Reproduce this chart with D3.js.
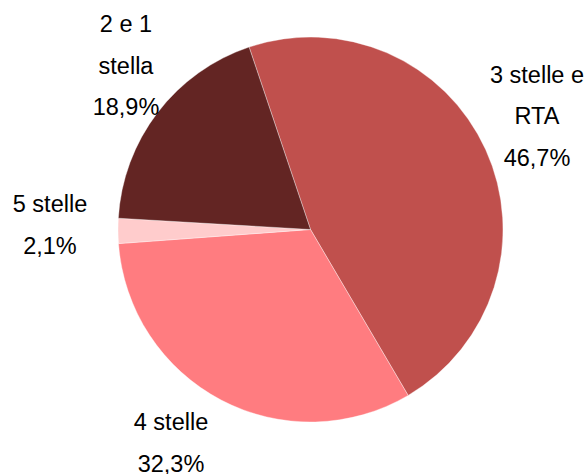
<!DOCTYPE html>
<html>
<head>
<meta charset="utf-8">
<script src="https://cdn.jsdelivr.net/npm/d3@7"></script>
<style>
  html, body { margin: 0; padding: 0; background: #fff; }
  svg { display: block; }
  text { font-family: "Liberation Sans", Arial, sans-serif; font-size: 23.5px; fill: #000; }
</style>
</head>
<body>
<svg id="chart" width="588" height="474"></svg>
<script>
// Ripartizione per categoria
const categories = ["3 stelle e RTA", "4 stelle", "5 stelle", "2 e 1 stella"];
const shares = [46.7, 32.3, 2.1, 18.9];
const labelLines = [["3 stelle e", "RTA"], ["4 stelle"], ["5 stelle"], ["2 e 1", "stella"]];
const percentLabels = ["46,7%", "32,3%", "2,1%", "18,9%"];
const colors = ["#C0504D", "#FF7C80", "#FFCCCC", "#632523"];

// label anchors (centre x, baseline of first line)
const labelPos = [[537, 82.5], [171, 430], [50, 212], [126, 32]];
const lineStep = 41.5;

const svg = d3.select("#chart");
const cx = 310.5, cy = 229.5, r = 192.5;
const startAngle = -18.6 * Math.PI / 180;

const pie = d3.pie()
  .sort(null)
  .value(d => d)
  .startAngle(startAngle)
  .endAngle(startAngle + 2 * Math.PI);

const arc = d3.arc().innerRadius(0).outerRadius(r);

const g = svg.append("g").attr("transform", `translate(${cx},${cy})`);

g.selectAll("path")
  .data(pie(shares))
  .join("path")
  .attr("d", arc)
  .attr("fill", (d, i) => colors[i])
  .attr("stroke", "#fff")
  .attr("stroke-width", 0.6)
  .attr("stroke-opacity", 0.6);

const labels = svg.append("g");
categories.forEach((c, i) => {
  const lines = labelLines[i].concat([percentLabels[i]]);
  const t = labels.append("text")
    .attr("text-anchor", "middle")
    .attr("x", labelPos[i][0])
    .attr("y", labelPos[i][1]);
  lines.forEach((ln, j) => {
    t.append("tspan")
      .attr("x", labelPos[i][0])
      .attr("y", labelPos[i][1] + j * lineStep)
      .text(ln);
  });
});
</script>
</body>
</html>
